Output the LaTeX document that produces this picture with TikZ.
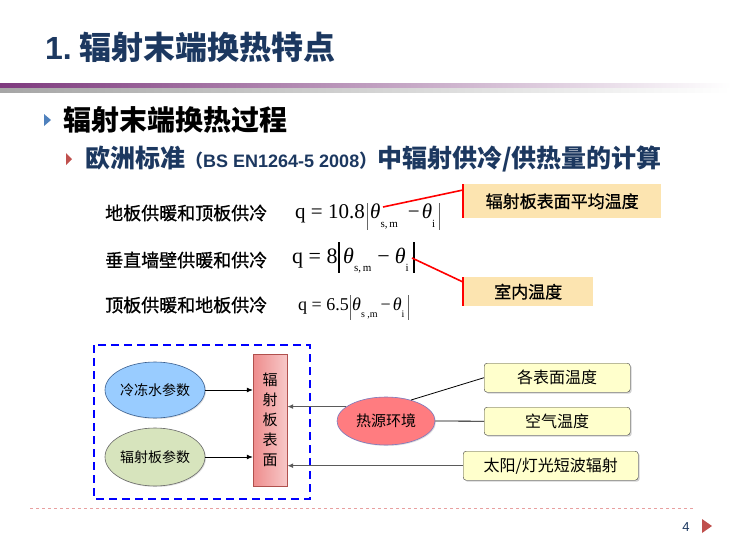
\documentclass[tikz,border=0pt]{standalone}
\usepackage{fontspec}
\setmainfont{Noto Sans CJK SC}
\newfontfamily\cjkmed[FakeBold=0.8]{Noto Sans CJK SC}
\newfontfamily\arialf{Liberation Sans}
\newfontfamily\tnr{Liberation Serif}
\usetikzlibrary{shadows,arrows.meta,shapes.geometric,calc}

\definecolor{navy}{RGB}{28,56,96}
\definecolor{titlepurple}{RGB}{126,58,126}
\definecolor{calloutfill}{RGB}{252,228,176}
\definecolor{boxfill}{RGB}{255,255,204}
\definecolor{bluefill}{RGB}{153,204,255}
\definecolor{greenfill}{RGB}{215,228,189}
\definecolor{salmon}{RGB}{255,124,128}
\definecolor{rectleft}{RGB}{238,140,140}
\definecolor{rectright}{RGB}{247,200,200}
\definecolor{bullblue}{RGB}{79,129,189}
\definecolor{bullred}{RGB}{192,80,77}
\definecolor{pinkdot}{RGB}{232,160,160}
\definecolor{darkarrow}{RGB}{90,90,90}

\newcommand\fs[1]{\fontsize{#1}{#1}\selectfont}

\tikzset{
  rowlabel/.style={anchor=west, inner sep=0, font=\cjkmed\fs{18}},
  callout/.style={fill=calloutfill, inner sep=0, anchor=north west, font=\cjkmed\fs{17}},
  ybox/.style={rounded corners=3pt, draw=black!75, fill=boxfill, inner sep=0, anchor=north west,
    font=\fs{16}, drop shadow={shadow xshift=1.5pt, shadow yshift=-1.5pt, opacity=0.35}},
  oval/.style={ellipse, inner sep=0, line width=0.6pt, font=\fs{14},
    drop shadow={shadow xshift=1pt, shadow yshift=-1pt, opacity=0.25}},
  fml/.style={anchor=base west, inner sep=0},
  redline/.style={red, line width=1.6pt},
  thinbar/.style={black!60, line width=0.7pt},
  inarrow/.style={-{Latex[length=6pt,width=5pt]}, line width=0.8pt},
  grayarrow/.style={-{Latex[length=6pt,width=5pt]}, line width=1.4pt, darkarrow},
}

\begin{document}
\begin{tikzpicture}[x=1pt,y=-1pt]
\useasboundingbox (0,0) rectangle (731,546);
\fill[white] (0,0) rectangle (731,546);

% title bar
\shade[left color=titlepurple, middle color=titlepurple!80, right color=white] (0,83) rectangle (731,88);
\shade[left color=black!35, right color=white] (0,88) rectangle (731,92);
\node[anchor=west, inner sep=0, text=navy, font=\fs{32}\bfseries] (title) at (45,47)
  {{\arialf\bfseries 1.}\hspace{8pt}辐射末端换热特点};

% bullets
\fill[bullblue] (44,114) -- (51,120) -- (44,126) -- cycle;
\node[anchor=west, inner sep=0, font=\fs{28}\bfseries] (b1text) at (63,120) {辐射末端换热过程};
\fill[bullred] (66,153) -- (72,159) -- (66,165) -- cycle;
\node[anchor=west, inner sep=0, text=navy, font=\fs{25}\bfseries] (b2text) at (85,159)
  {欧洲标准{\fs{18}（{\arialf\bfseries BS EN1264-5 2008}）}中辐射供冷/供热量的计算};

% row labels
\node[rowlabel] (r1) at (105,213) {地板供暖和顶板供冷};
\node[rowlabel] (r2) at (105,260) {垂直墙壁供暖和供冷};
\node[rowlabel] (r3) at (105,305) {顶板供暖和地板供冷};

% formula 1
\node[fml] (f1q) at (295,218) {\tnr\fs{21}q = 10.8};
\draw[thinbar] (367,203) -- (367,230);
\node[fml] (f1t) at (370,218) {\tnr\fs{21}\textit{θ}\raisebox{-9pt}{\fs{11}s,\,m}\hspace{10pt}−\hspace{2pt}\textit{θ}\raisebox{-9pt}{\fs{11}i}};
\draw[thinbar] (439,203) -- (439,230);
% formula 2
\node[fml] (f2q) at (292,263) {\tnr\fs{22}q = 8};
\draw[black, line width=2.6pt] (339,242) -- (339,273);
\node[fml] (f2t) at (343,263) {\tnr\fs{22}\textit{θ}\raisebox{-8pt}{\fs{11}s,\,m}\hspace{6pt}−\hspace{5pt}\textit{θ}\raisebox{-8pt}{\fs{11}i}};
\draw[black, line width=2.6pt] (414,242) -- (414,273);
% formula 3
\node[fml] (f3q) at (298,310) {\tnr\fs{18}q = 6.5};
\draw[thinbar] (350,295) -- (350,320);
\node[fml] (f3t) at (352,310) {\tnr\fs{18}\textit{θ}\raisebox{-7pt}{\fs{10}s ,m}\hspace{3pt}−\hspace{2pt}\textit{θ}\raisebox{-7pt}{\fs{10}i}};
\draw[thinbar] (408,295) -- (408,320);

% callouts
\node[callout, minimum width=198pt, minimum height=34pt] (cb1) at (463,184) {辐射板表面平均温度};
\node[callout, minimum width=130pt, minimum height=29pt] (cb2) at (463,277) {室内温度};
\draw[redline] (cb1.north west) -- (cb1.south west);
\draw[redline] (cb2.north west) -- (cb2.south west);
\coordinate (th1) at (383,207);
\coordinate (th2) at (412,258);
\draw[redline] (th1) -- ($(cb1.north west)+(0,6)$);
\draw[redline] (th2) -- ($(cb2.north west)+(0,5)$);

% bottom diagram
\draw[blue, line width=2pt, dash pattern=on 8pt off 5pt] (94,345) rectangle (310,499);
\node[oval, draw={rgb,255:red,58;green,95;blue,143}, fill=bluefill, minimum width=100pt, minimum height=56pt] (e1) at (155,390) {冷冻水参数};
\node[oval, draw=black!60, fill=greenfill, minimum width=100pt, minimum height=58pt] (e2) at (155,457) {辐射板参数};
\node[draw={rgb,255:red,176;green,80;blue,77}, left color=rectleft, right color=rectright,
  minimum width=34pt, minimum height=132pt, inner sep=0, align=center,
  font=\fontsize{15}{20}\selectfont, drop shadow={shadow xshift=1pt, shadow yshift=-1pt, opacity=0.3}]
  (panel) at (270,420) {辐\\射\\板\\表\\面};
\draw[inarrow] (e1.east) -- (e1.east -| panel.west);
\draw[inarrow] (e2.east) -- (e2.east -| panel.west);

\node[oval, draw={rgb,255:red,120;green,120;blue,190}, fill=salmon, minimum width=98pt, minimum height=48pt, font=\fs{15}] (heat) at (386,421) {热源环境};
\node[ybox, minimum width=146pt, minimum height=29pt] (s1) at (484,363) {各表面温度};
\node[ybox, minimum width=146pt, minimum height=28pt] (s2) at (484,407) {空气温度};
\node[ybox, minimum width=175pt, minimum height=29pt] (s3) at (463,451) {太阳/灯光短波辐射};

\draw[grayarrow] (heat.160) -- (heat.160 -| panel.east);
\draw[grayarrow] (s3.west) -- (s3.west -| panel.east);
\draw[line width=0.8pt] (heat.40) -- (s1.west);
\draw[line width=0.8pt] (heat.east) -- (s2.west);

% footer
\draw[pinkdot, line width=0.8pt, dash pattern=on 3pt off 3pt] (30,508) -- (695,508);
\node[inner sep=0, text=navy, font=\arialf\fs{13}] (pg) at (686,527) {4};
\fill[bullred] (702,519) -- (712,526) -- (702,533) -- cycle;
\end{tikzpicture}
\end{document}
